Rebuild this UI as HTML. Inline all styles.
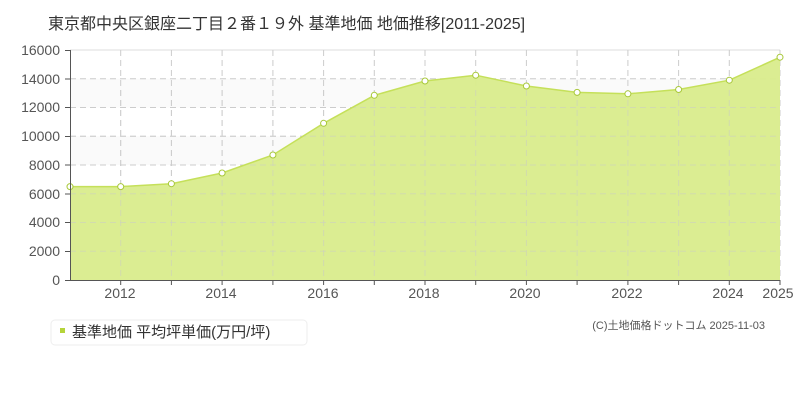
<!DOCTYPE html>
<html><head><meta charset="utf-8"><style>
body{margin:0;background:#fff;width:800px;height:400px;overflow:hidden}
svg text{font-family:"Liberation Sans","Noto Sans CJK JP",sans-serif}
</style></head><body>
<svg width="800" height="400" xmlns="http://www.w3.org/2000/svg">
<text x="48" y="29" font-size="16" fill="#333">東京都中央区銀座二丁目２番１９外 基準地価 地価推移[2011-2025]</text>
<g fill="#fafafa">
<rect x="70" y="78.75" width="710" height="28.75"/>
<rect x="70" y="136.25" width="710" height="28.75"/>
<rect x="70" y="193.75" width="710" height="28.75"/>
<rect x="70" y="251.25" width="710" height="28.75"/>
</g>
<line x1="70" y1="50" x2="780" y2="50" stroke="#ddd"/>
<g stroke="#ccc" stroke-dasharray="6,4" fill="none">
<path d="M70 78.75H780M70 107.5H780M70 136.25H780M70 165H780M70 193.75H780M70 222.5H780M70 251.25H780"/>
<path d="M120.7 50V280M171.4 50V280M222.1 50V280M272.9 50V280M323.6 50V280M374.3 50V280M425 50V280M475.7 50V280M526.4 50V280M577.1 50V280M627.9 50V280M678.6 50V280M729.3 50V280M780 50V280"/>
</g>
<path d="M70 186.6L120.7 186.6L171.4 183.7L222.1 173L272.9 155L323.6 123.3L374.3 95.3L425 81L475.7 75.2L526.4 86L577.1 92.4L627.9 93.8L678.6 89.5L729.3 80.2L780 57.2L780 280L70 280Z" fill="#d9ec8c" fill-opacity="0.95"/>
<g stroke="#ccc" stroke-dasharray="6,4" stroke-opacity="0.5" fill="none">
<path d="M70 107.5H780M70 136.25H780M70 165H780M70 193.75H780M70 222.5H780M70 251.25H780"/>
<path d="M120.7 90V280M171.4 90V280M222.1 90V280M272.9 90V280M323.6 90V280M374.3 90V280M425 90V280M475.7 90V280M526.4 90V280M577.1 90V280M627.9 90V280M678.6 90V280M729.3 90V280"/>
</g>
<path d="M70 186.6L120.7 186.6L171.4 183.7L222.1 173L272.9 155L323.6 123.3L374.3 95.3L425 81L475.7 75.2L526.4 86L577.1 92.4L627.9 93.8L678.6 89.5L729.3 80.2L780 57.2" fill="none" stroke="#c5e05a" stroke-width="1.5"/>
<g fill="#fff" stroke="#a8c83a" stroke-width="1">
<circle cx="70" cy="186.6" r="3"/><circle cx="120.7" cy="186.6" r="3"/><circle cx="171.4" cy="183.7" r="3"/><circle cx="222.1" cy="173" r="3"/><circle cx="272.9" cy="155" r="3"/><circle cx="323.6" cy="123.3" r="3"/><circle cx="374.3" cy="95.3" r="3"/><circle cx="425" cy="81" r="3"/><circle cx="475.7" cy="75.2" r="3"/><circle cx="526.4" cy="86" r="3"/><circle cx="577.1" cy="92.4" r="3"/><circle cx="627.9" cy="93.8" r="3"/><circle cx="678.6" cy="89.5" r="3"/><circle cx="729.3" cy="80.2" r="3"/><circle cx="780" cy="57.2" r="3"/>
</g>
<g stroke="#555" fill="none">
<path d="M70.5 50V280.5H780"/>
<path d="M65 50.5H70M65 79H70M65 107.5H70M65 136.5H70M65 165H70M65 194H70M65 222.5H70M65 251.5H70M65 280.5H70"/>
<path d="M120.7 280V285M171.4 280V285M222.1 280V285M272.9 280V285M323.6 280V285M374.3 280V285M425 280V285M475.7 280V285M526.4 280V285M577.1 280V285M627.9 280V285M678.6 280V285M729.3 280V285M780 280V285"/>
</g>
<g font-size="14" fill="#555" text-anchor="end">
<text x="60" y="55">16000</text><text x="60" y="84">14000</text><text x="60" y="112">12000</text><text x="60" y="141">10000</text><text x="60" y="170">8000</text><text x="60" y="199">6000</text><text x="60" y="227">4000</text><text x="60" y="256">2000</text><text x="60" y="285">0</text>
</g>
<g font-size="14" fill="#555" text-anchor="middle">
<text x="120" y="298">2012</text><text x="221" y="298">2014</text><text x="323" y="298">2016</text><text x="424" y="298">2018</text><text x="525" y="298">2020</text><text x="627" y="298">2022</text><text x="728" y="298">2024</text><text x="778" y="298">2025</text>
</g>
<rect x="51" y="320" width="256" height="25" rx="4" fill="#fff" stroke="#eee"/>
<rect x="60" y="328" width="5" height="5" fill="#b5d43a"/>
<text x="72" y="337" font-size="15" fill="#333">基準地価 平均坪単価(万円/坪)</text>
<text x="765" y="329" font-size="11" fill="#555" text-anchor="end">(C)土地価格ドットコム 2025-11-03</text>
</svg>
</body></html>
